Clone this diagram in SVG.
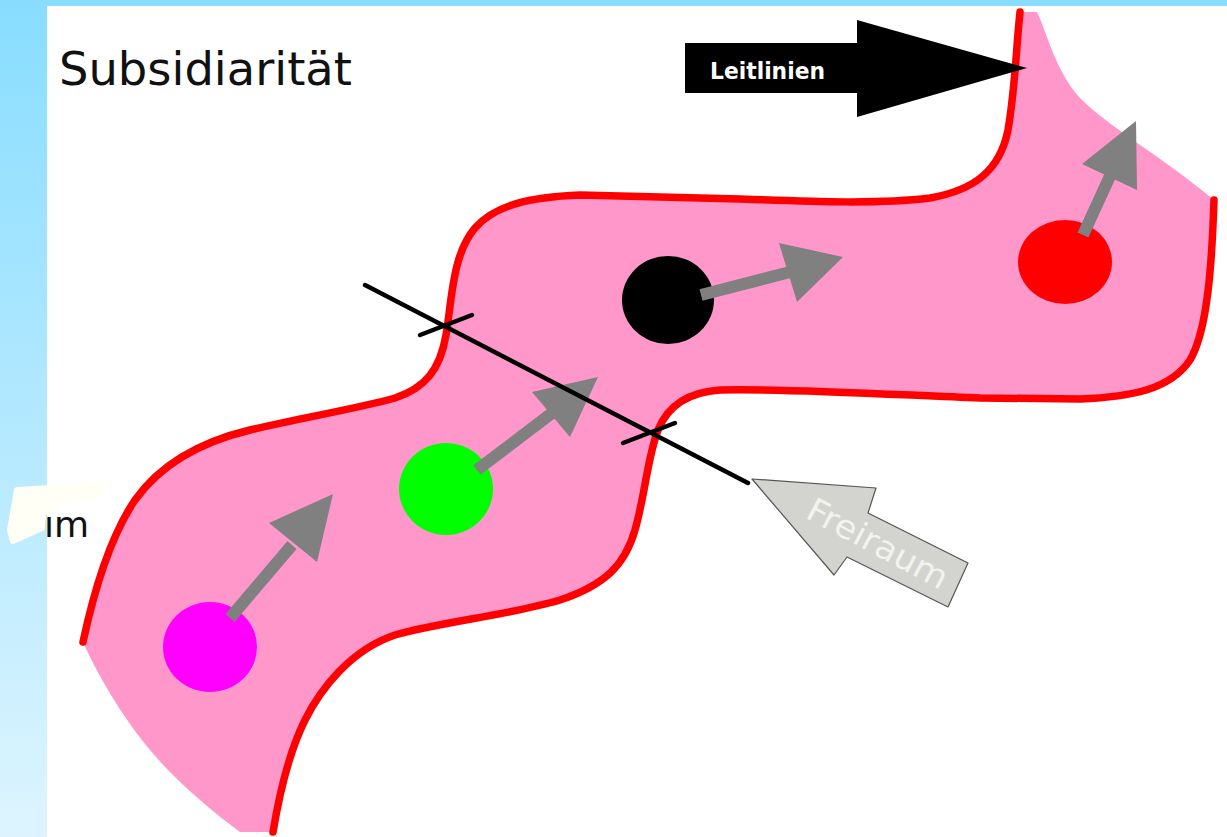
<svg xmlns="http://www.w3.org/2000/svg" width="1227" height="837" viewBox="0 0 1227 837">
<defs>
<linearGradient id="bg" x1="0" y1="0" x2="0" y2="1">
<stop offset="0" stop-color="#88DDFF"/>
<stop offset="1" stop-color="#DDF4FF"/>
</linearGradient>
<style>
.red{fill:none;stroke:#FF0000;stroke-width:7.5;stroke-linecap:round;stroke-linejoin:round}
.shaft{stroke:#808080;stroke-width:12;fill:none}
.head{fill:#808080}
.cut{stroke:#000;stroke-width:4.5;stroke-linecap:round;fill:none}
</style>
</defs>
<rect x="0" y="0" width="1227" height="837" fill="url(#bg)"/>
<rect x="47" y="6" width="1180" height="831" fill="#FFFFFF"/>

<g id="title">
<text x="59" y="85" font-family="DejaVu Sans, sans-serif" font-size="46" fill="#111" textLength="293" lengthAdjust="spacingAndGlyphs">Subsidiarität</text>
</g>

<g id="label-im">
<text x="44" y="537" font-family="DejaVu Sans, sans-serif" font-size="36" fill="#111">im</text>
<path d="M17,490 L100,485 L103,494 L58,501 L52,511 L43,513 L42,528 L13,541 L10,530 Z" fill="#FFFFF6" stroke="#FFFFF6" stroke-width="6" stroke-linejoin="round"/>
</g>

<g id="band">
<path d="M83,642 C92,600 108,540 135,500 C160,465 200,442 250,430 C300,418 360,408 395,398 C425,388 440,370 446,335 C452,300 452,255 475,228 C495,205 530,197 580,195 L740,199 C820,202 880,204 930,198 C975,190 1000,170 1008,130 C1015,90 1016,50 1020,12 L1037,12 C1048,35 1055,70 1080,98 C1110,128 1160,155 1214,200 C1212,260 1208,330 1190,360 C1170,390 1130,397 1080,399 L980,398 C900,395 780,388 720,390 C690,392 668,405 658,430 C648,455 645,495 635,530 C625,565 605,585 560,600 C510,615 440,622 395,635 C350,650 320,690 305,720 C290,750 280,790 273,832 L240,832 C210,810 175,780 150,750 C125,720 100,680 83,642 Z" fill="#FF97CB"/>
<path class="red" d="M83,642 C92,600 108,540 135,500 C160,465 200,442 250,430 C300,418 360,408 395,398 C425,388 440,370 446,335 C452,300 452,255 475,228 C495,205 530,197 580,195 L740,199 C820,202 880,204 930,198 C975,190 1000,170 1008,130 C1015,90 1016,50 1020,12"/>
<path class="red" d="M1214,200 C1212,260 1208,330 1190,360 C1170,390 1130,397 1080,399 L980,398 C900,395 780,388 720,390 C690,392 668,405 658,430 C648,455 645,495 635,530 C625,565 605,585 560,600 C510,615 440,622 395,635 C350,650 320,690 305,720 C290,750 280,790 273,832"/>
</g>

<g id="node-magenta"><ellipse cx="210" cy="647" rx="47" ry="45" fill="#FF00FF"/></g>
<g id="node-green"><ellipse cx="446" cy="489" rx="47" ry="46" fill="#00FF00"/></g>
<g id="node-black"><ellipse cx="668" cy="300" rx="46" ry="44" fill="#000000"/></g>
<g id="node-red"><ellipse cx="1065" cy="262" rx="47" ry="42" fill="#FF0000"/></g>

<g id="connectors">
<line class="shaft" x1="230" y1="618" x2="292" y2="545"/>
<polygon class="head" points="333,494 269,523 317,562"/>
<line class="shaft" x1="477" y1="470" x2="552" y2="413"/>
<polygon class="head" points="598,377 532,392 570,437"/>
<line class="shaft" x1="701" y1="295" x2="790" y2="272"/>
<polygon class="head" points="843,257 779,243 797,302"/>
<line class="shaft" x1="1083" y1="235" x2="1110" y2="176"/>
<polygon class="head" points="1136,121 1082,164 1137,190"/>
</g>

<g id="boundary-line">
<line class="cut" x1="365" y1="285" x2="748" y2="483"/>
<line class="cut" x1="420" y1="335" x2="472" y2="315"/>
<line class="cut" x1="623" y1="443" x2="675" y2="423"/>
</g>

<g id="leitlinien">
<polygon points="685,43 857,43 857,20 1027,68 857,117 857,93 685,93" fill="#000"/>
<text x="710" y="79" font-family="DejaVu Sans, sans-serif" font-size="23" font-weight="bold" fill="#FFFFFF" textLength="115" lengthAdjust="spacingAndGlyphs">Leitlinien</text>
</g>

<g id="freiraum">
<polygon points="752,479 876,488 868,513 968,563 948,607 847,557 834,575" fill="#D3D3CF" stroke="#555" stroke-width="1.2" stroke-linejoin="round"/>
<text transform="translate(878,543) rotate(28)" x="0" y="12" text-anchor="middle" font-family="DejaVu Sans, sans-serif" font-size="33" fill="#F2F2EE" textLength="155" lengthAdjust="spacingAndGlyphs">Freiraum</text>
</g>
</svg>
